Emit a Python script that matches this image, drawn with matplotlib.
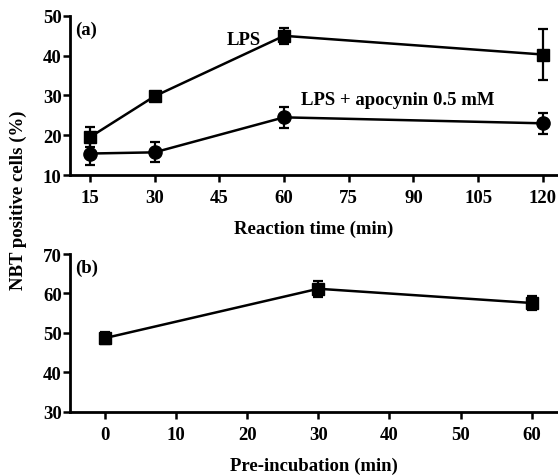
import matplotlib
matplotlib.use("Agg")
import matplotlib.pyplot as plt

plt.rcParams['font.family'] = ['Liberation Serif', 'DejaVu Serif']
plt.rcParams['font.weight'] = 'bold'

# panel (a)
time_a = [15, 30, 60, 120]
lps = [19.5, 29.8, 45.0, 40.3]
lps_err = [2.5, 1.0, 2.0, 6.3]
apo = [15.4, 15.7, 24.5, 23.0]
apo_err = [3.0, 2.5, 2.6, 2.6]
ticks_a = [15, 30, 45, 60, 75, 90, 105, 120]

# panel (b)
time_b = [0, 30, 60]
pre = [48.7, 61.2, 57.6]
pre_err = [1.5, 2.0, 1.8]
ticks_b = [0, 10, 20, 30, 40, 50, 60]

FS = 13.5
fig = plt.figure(figsize=(5.58, 4.77), dpi=100)
ax1 = fig.add_axes([0.1254, 0.631, 0.8746, 0.3335])
ax2 = fig.add_axes([0.1254, 0.1342, 0.8746, 0.3312])

ekw = dict(color="black", lw=1.8, elinewidth=1.6, capsize=3.5, capthick=1.6)
ax1.errorbar(time_a, lps, yerr=lps_err, marker="s", ms=8.5, **ekw)
ax1.errorbar(time_a, apo, yerr=apo_err, marker="o", ms=9.5, **ekw)
ax1.set_xlim(10.4, 123.5); ax1.set_ylim(10, 50)
ax1.set_xticks(ticks_a); ax1.set_yticks([10, 20, 30, 40, 50])
ax1.set_xlabel("Reaction time (min)", fontsize=FS, fontweight="bold", labelpad=10)
ax1.text(0.01, 0.97, "(a)", transform=ax1.transAxes, fontsize=FS, va="top")
ax1.text(54.7, 44.2, "LPS", fontsize=FS, ha="right", va="center")
ax1.text(63.9, 29.1, "LPS + apocynin 0.5 mM", fontsize=FS, va="center")

ax2.errorbar(time_b, pre, yerr=pre_err, marker="s", ms=8.5, **ekw)
ax2.set_xlim(-4.9, 63.7); ax2.set_ylim(30, 70)
ax2.set_xticks(ticks_b); ax2.set_yticks([30, 40, 50, 60, 70])
ax2.set_xlabel("Pre-incubation (min)", fontsize=FS, fontweight="bold", labelpad=10)
ax2.text(0.01, 0.97, "(b)", transform=ax2.transAxes, fontsize=FS, va="top")

for ax in (ax1, ax2):
    for s in ("top", "right"):
        ax.spines[s].set_visible(False)
    for s in ("left", "bottom"):
        ax.spines[s].set_linewidth(2)
    ax.tick_params(width=1.8, length=5, labelsize=FS, pad=5)
    ax.tick_params(axis="y", pad=1)
    for lab in ax.get_xticklabels() + ax.get_yticklabels():
        lab.set_fontweight("bold")

fig.text(0.032, 0.58, "NBT positive cells (%)", rotation=90, ha="center", va="center",
         fontsize=FS, fontweight="bold")

fig.savefig("out.png", dpi=100)
